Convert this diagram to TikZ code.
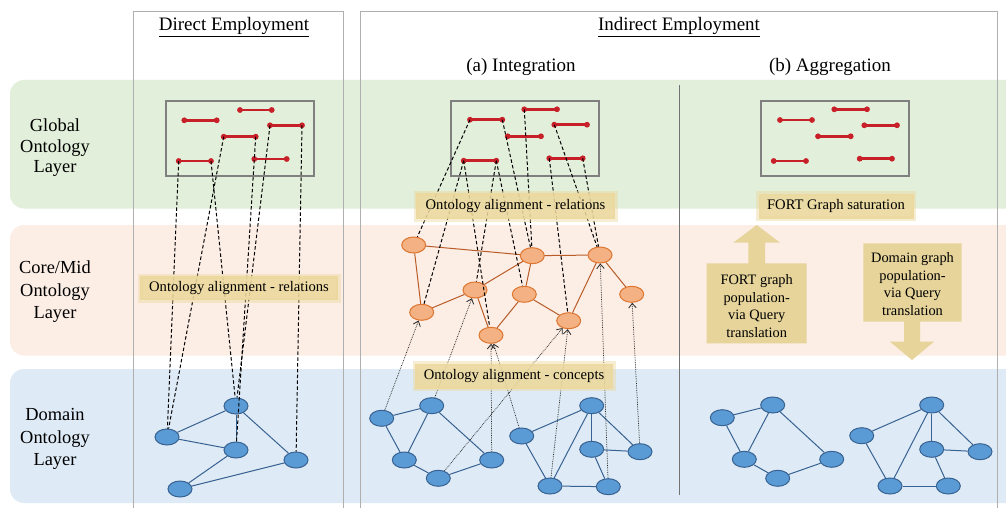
\documentclass[tikz,border=0pt]{standalone}
\usepackage{fontspec}
\setmainfont{Liberation Serif}
\usetikzlibrary{shapes.geometric,arrows.meta}
\definecolor{bandG}{RGB}{226,239,218}
\definecolor{bandP}{RGB}{252,237,229}
\definecolor{bandB}{RGB}{222,235,246}
\definecolor{nodeB}{RGB}{91,155,213}
\definecolor{lineB}{RGB}{56,98,145}
\definecolor{nodeO}{RGB}{244,177,131}
\definecolor{lineO}{RGB}{222,118,48}
\definecolor{edgeO}{RGB}{185,92,40}
\definecolor{segR}{RGB}{200,32,40}
\definecolor{frameG}{RGB}{175,175,175}
\definecolor{boxG}{RGB}{128,128,128}
\definecolor{labC}{RGB}{236,216,156}
\definecolor{arrC}{RGB}{230,212,155}
\newcommand\rseg[4]{%
  \coordinate (#1L) at (#2,#4);
  \coordinate (#1R) at (#3,#4);
  \draw[segline] (#1L) -- (#1R);
  \fill[segR] (#1L) circle (2.9pt) (#1R) circle (2.9pt);}
\begin{document}
\begin{tikzpicture}[x=1pt,y=-1pt,
  bn/.style={ellipse,draw=lineB,fill=nodeB,line width=1pt,minimum width=24pt,minimum height=16pt,inner sep=0pt},
  on/.style={ellipse,draw=lineO,fill=nodeO,line width=1pt,minimum width=24pt,minimum height=16pt,inner sep=0pt},
  bedge/.style={draw=lineB,line width=1pt},
  oedge/.style={draw=edgeO,line width=1pt},
  segline/.style={draw=segR,line width=2.8pt},
  dsh/.style={draw=black,line width=1pt,dash pattern=on 3.5pt off 2.3pt},
  dotarr/.style={draw=black!85,line width=0.75pt,densely dotted,-{Straight Barb[length=4.5pt,width=7.5pt,line width=0.8pt]}},
  frame/.style={draw=frameG,line width=0.9pt},
  gbox/.style={draw=boxG,line width=1.1pt},
  lab/.style={fill=labC,fill opacity=0.88,text opacity=1,inner sep=0pt,
    preaction={draw=labC,draw opacity=0.45,line width=5pt},
    font=\fontsize{14.6}{17}\selectfont},
  head/.style={font=\fontsize{19}{22}\selectfont},
  side/.style={font=\fontsize{18.4}{22.5}\selectfont,align=center},
  atext/.style={font=\fontsize{14.4}{17.6}\selectfont,align=center}]
\useasboundingbox (0,0) rectangle (1006,508);
\fill[white] (0,0) rectangle (1006,508);
% bands
\fill[bandG,rounded corners=14pt] (10,80) rectangle (1040,208.5);
\fill[bandP,rounded corners=14pt] (10,225) rectangle (1040,355.5);
\fill[bandB,rounded corners=14pt] (10,369) rectangle (1040,503);
% frames
\draw[frame] (133,520) -- (133,11) -- (343,11) -- (343,520);
\draw[frame] (360,520) -- (360,11) -- (997,11) -- (997,520);
\draw[frame,draw=black!55] (679,85) -- (679,495);
% headings
\node[head] (hD) at (234,27) {\underline{Direct Employment}};
\node[head] (hI) at (679,27) {\underline{Indirect Employment}};
\node[head] (hA) at (521,67) {(a) Integration};
\node[head] (hB) at (830,67) {(b) Aggregation};
\node[side,font=\fontsize{18.4}{20.5}\selectfont] (sG) at (55,148) {Global\\Ontology\\Layer};
\node[side] (sC) at (55,292) {Core/Mid\\Ontology\\Layer};
\node[side] (sD) at (55,439) {Domain\\Ontology\\Layer};
% global boxes
\draw[gbox] (166,101) rectangle (314,176);
\draw[gbox] (451,101) rectangle (599,176);
\draw[gbox] (761,101) rectangle (909,176);
% ---------- direct ----------
\node[bn] (dA) at (167,437) {};
\node[bn] (dB) at (236,406) {};
\node[bn] (dC) at (236,450) {};
\node[bn] (dD) at (296,460) {};
\node[bn] (dE) at (180,489) {};
\draw[bedge] (dA) -- (dB);
\draw[bedge] (dA) -- (dC);
\draw[bedge] (dB) -- (dC);
\draw[bedge] (dB) -- (dD);
\draw[bedge] (dC) -- (dE);
\draw[bedge] (dE) -- (dD);
\rseg{d1}{184.3}{216.7}{120.3}
\rseg{d2}{240}{271.7}{110}
\rseg{d3}{270}{302}{125.3}
\rseg{d4}{223.7}{255.7}{136.7}
\rseg{d5}{254.3}{286.7}{159}
\rseg{d6}{178.7}{211}{161}
\draw[dsh] (d6L) -- (dA);
\draw[dsh] (d4L) -- (dA);
\draw[dsh] (d6R) -- (dB);
\draw[dsh] (d4R) -- (dC);
\draw[dsh] (d3L) -- (dB);
\draw[dsh] (d3R) -- (dD);
\node[lab,minimum width=198pt,minimum height=24pt] (lD) at (239,288) {Ontology alignment - relations};
% ---------- integration ----------
\node[on] (O1) at (413.7,245) {};
\node[on] (O2) at (532.3,255.7) {};
\node[on] (O3) at (600,255) {};
\node[on] (O4) at (475,290) {};
\node[on] (O5) at (524.3,294.3) {};
\node[on] (O6) at (631.7,294.3) {};
\node[on] (O7) at (421.7,312.3) {};
\node[on] (O8) at (568.7,320.7) {};
\node[on] (O9) at (491,335.3) {};
\draw[oedge] (O1) -- (O2);
\draw[oedge] (O1) -- (O7);
\draw[oedge] (O7) -- (O4);
\draw[oedge] (O4) -- (O2);
\draw[oedge] (O2) -- (O3);
\draw[oedge] (O2) -- (O5);
\draw[oedge] (O5) -- (O9);
\draw[oedge] (O4) -- (O9);
\draw[oedge] (O5) -- (O8);
\draw[oedge] (O8) -- (O3);
\draw[oedge] (O3) -- (O6);
\node[bn] (D1) at (381.7,418.3) {};
\node[bn] (D2) at (431.7,405.7) {};
\node[bn] (D3) at (404.3,460) {};
\node[bn] (D4) at (491.7,460) {};
\node[bn] (D5) at (438.3,478.3) {};
\node[bn] (D6) at (521.7,436) {};
\node[bn] (D7) at (591.7,405.7) {};
\node[bn] (D8) at (591.7,449.3) {};
\node[bn] (D9) at (640,451.7) {};
\node[bn] (D10) at (550,486) {};
\node[bn] (D11) at (608.3,486.7) {};
\draw[bedge] (D1) -- (D2);
\draw[bedge] (D1) -- (D3);
\draw[bedge] (D2) -- (D3);
\draw[bedge] (D2) -- (D4);
\draw[bedge] (D3) -- (D5);
\draw[bedge] (D5) -- (D4);
\draw[bedge] (D6) -- (D7);
\draw[bedge] (D6) -- (D10);
\draw[bedge] (D10) -- (D7);
\draw[bedge] (D7) -- (D8);
\draw[bedge] (D7) -- (D9);
\draw[bedge] (D8) -- (D9);
\draw[bedge] (D8) -- (D11);
\draw[bedge] (D10) -- (D11);
\rseg{i1}{470}{502.3}{119.7}
\rseg{i2}{524.3}{557}{109.3}
\rseg{i3}{554.3}{587}{124.7}
\rseg{i4}{507.7}{541}{136.3}
\rseg{i5}{549.3}{582.7}{158.3}
\rseg{i6}{463.7}{496.3}{160.7}
\draw[dsh] (i1L) -- (O1);
\draw[dsh] (i6L) -- (O7);
\draw[dsh] (i6L) -- (O9);
\draw[dsh] (i6R) -- (O4);
\draw[dsh] (i6R) -- (O5);
\draw[dsh] (i1R) -- (O2);
\draw[dsh] (i2L) -- (O2);
\draw[dsh] (i5L) -- (O8);
\draw[dsh] (i3L) -- (O3);
\draw[dsh] (i5R) -- (O3);
\draw[dotarr] (D1) -- (O7);
\draw[dotarr] (D2) -- (O4);
\draw[dotarr] (D4) -- (O9);
\draw[dotarr] (D6) -- (O9);
\draw[dotarr] (D5) -- (O8);
\draw[dotarr] (D10) -- (O8);
\draw[dotarr] (D11) -- (O3);
\draw[dotarr] (D9) -- (O6);
\node[lab,minimum width=199pt,minimum height=26pt] (lR) at (515.5,206) {Ontology alignment - relations};
\node[lab,minimum width=198pt,minimum height=25pt] (lC) at (514,376) {Ontology alignment - concepts};
% ---------- aggregation ----------
\rseg{a1}{780}{812}{120}
\rseg{a2}{834.3}{867}{109.3}
\rseg{a3}{864.3}{897}{125.3}
\rseg{a4}{818}{850.7}{136.3}
\rseg{a5}{859.7}{892}{158.7}
\rseg{a6}{773.7}{806}{161}
\node[lab,minimum width=155pt,minimum height=25pt] (lS) at (836,206) {FORT Graph saturation};
\fill[arrC] (706.7,263.3) -- (748.3,263.3) -- (748.3,242.7) -- (733.3,242.7) -- (756.7,225) -- (780,242.7) -- (765,242.7) -- (765,263.3) -- (806.7,263.3) -- (806.7,343.3) -- (706.7,343.3) -- cycle;
\node[atext] (tU) at (756.7,306) {FORT graph\\population-\\via Query\\translation};
\fill[arrC] (863.3,243.3) -- (961.7,243.3) -- (961.7,321.7) -- (920,321.7) -- (920,341.7) -- (934,341.7) -- (912,360) -- (890,341.7) -- (904,341.7) -- (904,321.7) -- (863.3,321.7) -- cycle;
\node[atext] (tDn) at (912.5,284) {Domain graph\\population-\\via Query\\translation};
\node[bn] (A1) at (722.3,417.7) {};
\node[bn] (A2) at (772.7,405) {};
\node[bn] (A3) at (744.3,459.3) {};
\node[bn] (A4) at (831.7,459.3) {};
\node[bn] (A5) at (777.7,478.3) {};
\draw[bedge] (A1) -- (A2);
\draw[bedge] (A1) -- (A3);
\draw[bedge] (A2) -- (A3);
\draw[bedge] (A2) -- (A4);
\draw[bedge] (A3) -- (A5);
\draw[bedge] (A5) -- (A4);
\node[bn] (B1) at (861.7,435.7) {};
\node[bn] (B2) at (931.7,405) {};
\node[bn] (B3) at (931.7,449.3) {};
\node[bn] (B4) at (980,451.7) {};
\node[bn] (B5) at (890,486) {};
\node[bn] (B6) at (948.3,486) {};
\draw[bedge] (B1) -- (B2);
\draw[bedge] (B1) -- (B5);
\draw[bedge] (B5) -- (B2);
\draw[bedge] (B2) -- (B3);
\draw[bedge] (B2) -- (B4);
\draw[bedge] (B3) -- (B4);
\draw[bedge] (B3) -- (B6);
\draw[bedge] (B5) -- (B6);
\end{tikzpicture}
\end{document}
